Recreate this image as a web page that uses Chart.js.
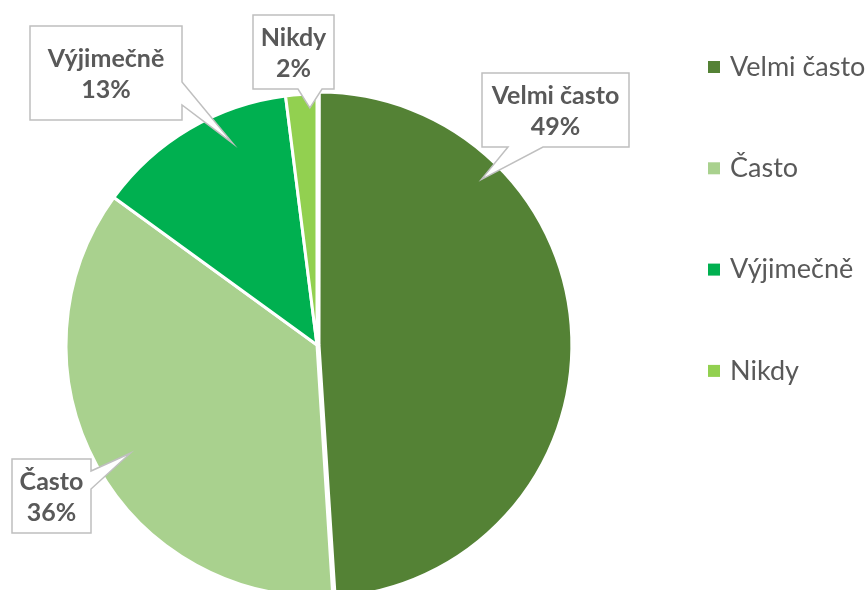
<!DOCTYPE html>
<html>
<head>
<meta charset="utf-8">
<script src="https://cdn.jsdelivr.net/npm/chart.js@4.4.1/dist/chart.umd.min.js"></script>
<style>
    html, body { margin: 0; padding: 0; background: #fff; overflow: hidden; }
    #wrap { position: relative; width: 867px; height: 610px; }
</style>
</head>
<body>
<div id="wrap"><canvas id="pieChart"></canvas></div>
<script>
// Survey answers (share in %)
const categories = ['Velmi často', 'Často', 'Výjimečně', 'Nikdy'];
const shares = [49, 36, 13, 2];
const colors = ['#548235', '#A9D18E', '#00B050', '#92D050'];

// Callout boxes: box rect, pointer base on one edge, tip placed inside the slice
// (t = fraction along the slice angle, f = fraction of the radius)
const callouts = [
    { x: 482, y: 73, w: 147, h: 74, side: 'bottom', a: 508, b: 543, t: 0.254, f: 0.93 },
    { x: 12, y: 459, w: 79, h: 74, side: 'right', a: 471, b: 489, t: 0.49, f: 0.86 },
    { x: 30, y: 26, w: 152, h: 94, side: 'right', a: 82, b: 105, t: 0.67, f: 0.87 },
    { x: 253, y: 15, w: 81, h: 74, side: 'bottom', a: 298, b: 322, t: 0.76, f: 0.945 }
];

const TEXT = '#595959';

const calloutPlugin = {
    id: 'callouts',
    afterDatasetsDraw(chart) {
        const ctx = chart.ctx;
        const arcs = chart.getDatasetMeta(0).data;
        const total = shares.reduce((s, v) => s + v, 0);
        arcs.forEach((arc, i) => {
            const c = callouts[i];
            const ang = arc.startAngle + c.t * (arc.endAngle - arc.startAngle);
            const tx = arc.x + Math.cos(ang) * arc.outerRadius * c.f;
            const ty = arc.y + Math.sin(ang) * arc.outerRadius * c.f;
            const r = c.x + c.w, btm = c.y + c.h;

            ctx.save();
            ctx.beginPath();
            ctx.moveTo(c.x, c.y);
            ctx.lineTo(r, c.y);
            if (c.side === 'right') {
                ctx.lineTo(r, c.a);
                ctx.lineTo(tx, ty);
                ctx.lineTo(r, c.b);
            }
            ctx.lineTo(r, btm);
            if (c.side === 'bottom') {
                ctx.lineTo(c.b, btm);
                ctx.lineTo(tx, ty);
                ctx.lineTo(c.a, btm);
            }
            ctx.lineTo(c.x, btm);
            ctx.closePath();
            ctx.fillStyle = '#ffffff';
            ctx.fill();
            ctx.strokeStyle = '#BFBFBF';
            ctx.lineWidth = 1.5;
            ctx.stroke();

            const pct = Math.round(shares[i] / total * 100) + '%';
            ctx.fillStyle = TEXT;
            ctx.font = 'bold 25px Lato';
            ctx.textAlign = 'center';
            ctx.textBaseline = 'middle';
            const cx = c.x + c.w / 2, cy = c.y + c.h / 2 + 1;
            ctx.fillText(categories[i], cx, cy - 15.5);
            ctx.fillText(pct, cx, cy + 15.5);
            ctx.restore();
        });
    }
};

// Legend drawn on the right, evenly spaced
const legendPlugin = {
    id: 'sideLegend',
    afterDraw(chart) {
        const ctx = chart.ctx;
        ctx.save();
        ctx.font = '27px Lato';
        ctx.textBaseline = 'middle';
        ctx.textAlign = 'left';
        categories.forEach((name, i) => {
            const y = 67 + i * 101.3;
            ctx.fillStyle = colors[i];
            ctx.fillRect(708, y - 6, 12, 12);
            ctx.fillStyle = TEXT;
            ctx.fillText(name, 730, y);
        });
        ctx.restore();
    }
};

let pieChart;

function initChart() {
    const ctx = document.getElementById('pieChart');
    if (pieChart) pieChart.destroy();
    pieChart = new Chart(ctx, {
        type: 'pie',
        data: {
            labels: categories,
            datasets: [{
                data: shares,
                backgroundColor: colors,
                borderColor: '#ffffff',
                borderWidth: 3,
                offset: [8, 0, 0, 0]
            }]
        },
        options: {
            responsive: true,
            maintainAspectRatio: false,
            animation: false,
            layout: { padding: { left: 60.5, top: 88.5, right: 293.5, bottom: 8.5 } },
            plugins: {
                legend: { display: false },
                tooltip: { enabled: false }
            }
        },
        plugins: [calloutPlugin, legendPlugin]
    });
}

window.addEventListener('DOMContentLoaded', initChart);
</script>
</body>
</html>
